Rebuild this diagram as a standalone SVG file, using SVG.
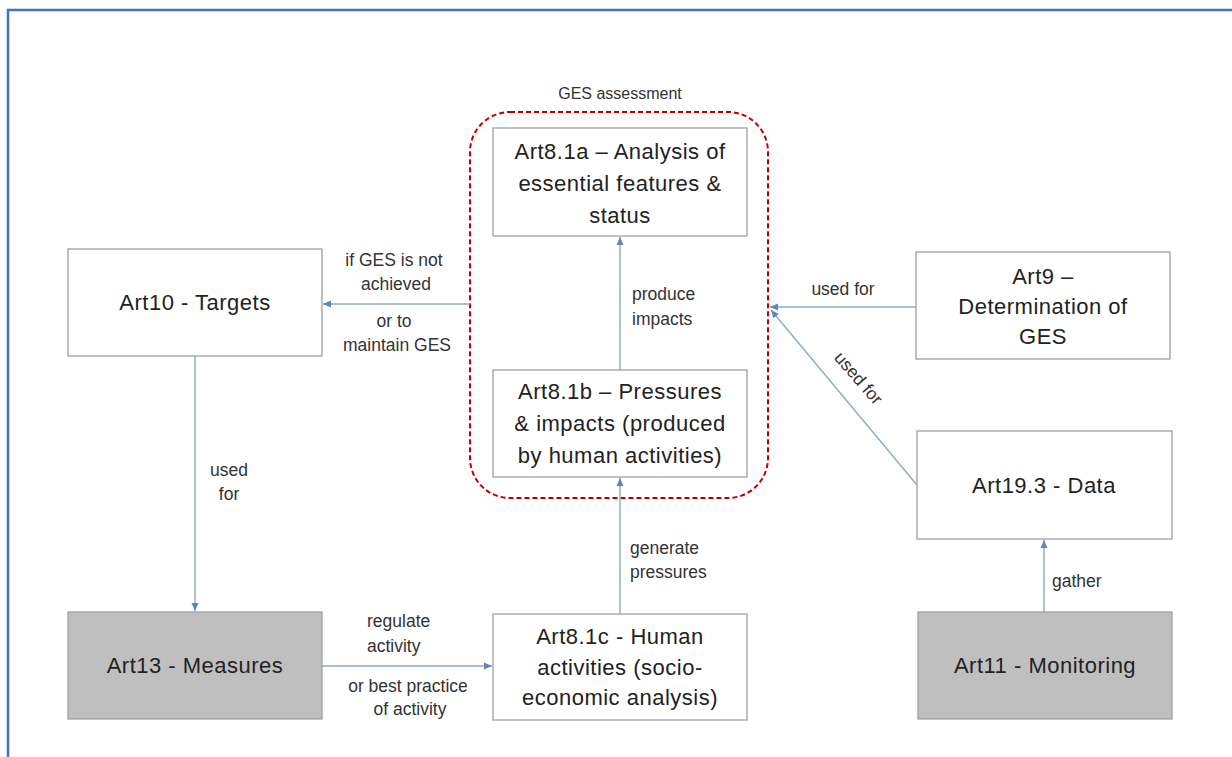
<svg xmlns="http://www.w3.org/2000/svg" width="1232" height="757" viewBox="0 0 1232 757">
<style>
.box{fill:#fff;stroke:#a0a0a0;stroke-width:1.3}
.gbox{fill:#bfbfbf;stroke:#a0a0a0;stroke-width:1.3}
.t{font-family:"Liberation Sans",Arial,sans-serif;font-size:22px;letter-spacing:0.5px;fill:#222;text-anchor:middle}
.l{font-family:"Liberation Sans",Arial,sans-serif;font-size:17.5px;fill:#333}
.c{text-anchor:middle}
.con{fill:none;stroke:#8fa9c6;stroke-width:1.4}
</style>
<defs>
<marker id="ah" markerWidth="9" markerHeight="8" refX="8" refY="4" orient="auto" markerUnits="userSpaceOnUse">
<path d="M0,0.5 L8,4 L0,7.5 z" fill="#5b87ba"/>
</marker>
</defs>
<rect width="1232" height="757" fill="#fff"/>
<path d="M8,757 V10 H1232" fill="none" stroke="#4472c4" stroke-width="2.5"/>

<g id="ges-assessment">
<rect x="470" y="112" width="298" height="386" rx="40" ry="40" fill="none" stroke="#c00000" stroke-width="2" stroke-dasharray="5,3"/>
<text class="l c" x="620" y="99" style="font-size:16px">GES assessment</text>
</g>

<g id="connectors">
<line class="con" x1="470" y1="304" x2="323" y2="304" marker-end="url(#ah)"/>
<line class="con" x1="620" y1="370" x2="620" y2="237" marker-end="url(#ah)"/>
<line class="con" x1="620" y1="614" x2="620" y2="478" marker-end="url(#ah)"/>
<line class="con" x1="916" y1="307" x2="770" y2="307" marker-end="url(#ah)"/>
<line class="con" x1="917" y1="485" x2="771" y2="310" marker-end="url(#ah)"/>
<line class="con" x1="195" y1="356" x2="195" y2="611" marker-end="url(#ah)"/>
<line class="con" x1="322" y1="666" x2="492" y2="666" marker-end="url(#ah)"/>
<line class="con" x1="1044" y1="612" x2="1044" y2="540" marker-end="url(#ah)"/>
<text class="l c" x="394" y="266">if GES is not</text>
<text class="l c" x="396" y="290">achieved</text>
<text class="l c" x="394" y="327">or to</text>
<text class="l c" x="397" y="351">maintain GES</text>
<text class="l" x="632" y="300">produce</text>
<text class="l" x="632" y="325">impacts</text>
<text class="l" x="630" y="554">generate</text>
<text class="l" x="630" y="578">pressures</text>
<text class="l c" x="229" y="476">used</text>
<text class="l c" x="229" y="500">for</text>
<text class="l" x="367" y="627">regulate</text>
<text class="l" x="367" y="652">activity</text>
<text class="l c" x="408" y="692">or best practice</text>
<text class="l c" x="410" y="715">of activity</text>
<text class="l c" x="843" y="295">used for</text>
<text class="l c" transform="translate(854,382) rotate(49)" x="0" y="0">used for</text>
<text class="l" x="1052" y="587">gather</text>
</g>

<g id="art10">
<rect class="box" x="68" y="249" width="254" height="107"/>
<text class="t" x="195" y="310">Art10 - Targets</text>
</g>

<g id="art81a">
<rect class="box" x="493" y="128" width="254" height="108"/>
<text class="t" x="620" y="159">Art8.1a – Analysis of</text>
<text class="t" x="620" y="191">essential features &amp;</text>
<text class="t" x="620" y="223">status</text>
</g>

<g id="art81b">
<rect class="box" x="493" y="370" width="254" height="107"/>
<text class="t" x="620" y="399">Art8.1b – Pressures</text>
<text class="t" x="620" y="431">&amp; impacts (produced</text>
<text class="t" x="620" y="463">by human activities)</text>
</g>

<g id="art81c">
<rect class="box" x="493" y="614" width="254" height="106"/>
<text class="t" x="620" y="644">Art8.1c - Human</text>
<text class="t" x="620" y="675">activities (socio-</text>
<text class="t" x="620" y="705">economic analysis)</text>
</g>

<g id="art9">
<rect class="box" x="916" y="252" width="254" height="107"/>
<text class="t" x="1043" y="284">Art9 –</text>
<text class="t" x="1043" y="314">Determination of</text>
<text class="t" x="1043" y="344">GES</text>
</g>

<g id="art193">
<rect class="box" x="917" y="431" width="255" height="108"/>
<text class="t" x="1044" y="493">Art19.3 - Data</text>
</g>

<g id="art13">
<rect class="gbox" x="68" y="612" width="254" height="107"/>
<text class="t" x="195" y="673">Art13 - Measures</text>
</g>

<g id="art11">
<rect class="gbox" x="918" y="612" width="254" height="107"/>
<text class="t" x="1045" y="673">Art11 - Monitoring</text>
</g>
</svg>
